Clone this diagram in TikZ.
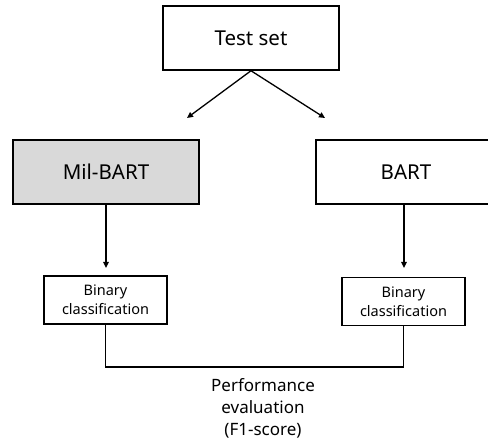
\documentclass[tikz,border=0pt]{standalone}
\usepackage{fontspec}
\setmainfont{Noto Sans}
\usetikzlibrary{arrows.meta}
\definecolor{boxgray}{RGB}{217,217,217}
\tikzset{
  bigbox/.style={draw=black, line width=1.5pt, minimum width=186pt, minimum height=64pt, inner sep=0pt, font=\fontsize{20.5}{24}\selectfont},
  smallbox/.style={draw=black, line width=1.2pt, minimum width=123pt, minimum height=48pt, inner sep=0pt, align=center, font=\fontsize{14.5}{19}\selectfont},
  conn/.style={line width=1.3pt},
  arr/.style={conn, -{Triangle[length=6pt,width=5.5pt]}}
}
\begin{document}
\begin{tikzpicture}[x=1pt,y=-1pt]
\useasboundingbox (0,0) rectangle (488,443);
\clip (0,0) rectangle (488,443);
\node[bigbox, minimum width=176pt] (test) at (251,38) {Test set};
\node[bigbox, fill=boxgray] (mil) at (106,172) {Mil-BART};
\node[bigbox, minimum width=180pt] (bart) at (406,172) {BART};
\node[smallbox] (bin1) at (105.5,300) {Binary\\classification};
\node[smallbox] (bin2) at (403.5,301.5) {Binary\\classification};
\node[align=center, inner sep=0pt, font=\fontsize{17}{22}\selectfont] (perf) at (263,408) {Performance\\evaluation\\(F1-score)};
\coordinate (tl) at (187,118);
\coordinate (tr) at (325,118);
\coordinate (m1) at (106,268);
\coordinate (m2) at (404,268);
\coordinate (b1) at (105.5,367);
\coordinate (b2) at (403.5,367);
\draw[arr] (test.south) -- (tl);
\draw[arr] (test.south) -- (tr);
\draw[arr] (mil.south) -- (m1);
\draw[arr] (bart.south -| m2) -- (m2);
\draw[conn] (bin1.south) -- (b1) -- (b2) -- (bin2.south);
\end{tikzpicture}
\end{document}
